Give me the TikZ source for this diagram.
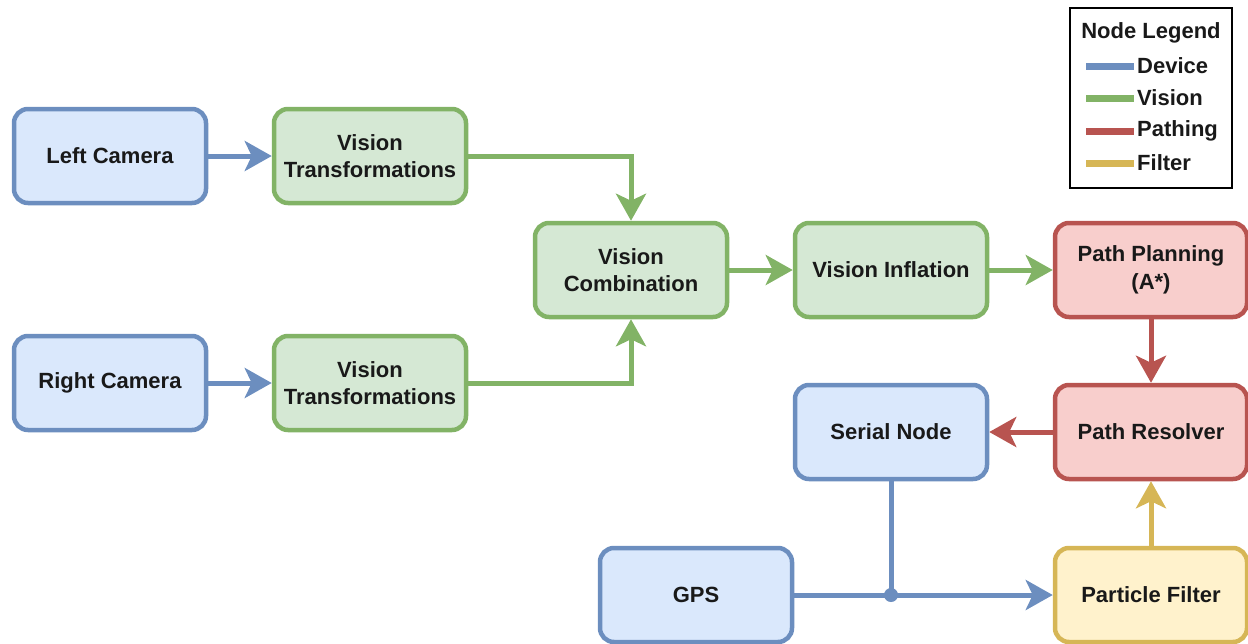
\documentclass[tikz,border=0pt]{standalone}
\usepackage{fontspec}
\setmainfont{Liberation Sans}
\usetikzlibrary{arrows.meta}
\definecolor{devfill}{HTML}{DAE8FC}
\definecolor{devline}{HTML}{6C8EBF}
\definecolor{visfill}{HTML}{D5E8D4}
\definecolor{visline}{HTML}{82B366}
\definecolor{pathfill}{HTML}{F8CECC}
\definecolor{pathline}{HTML}{B85450}
\definecolor{filtfill}{HTML}{FFF2CC}
\definecolor{filtline}{HTML}{D6B656}
\begin{document}
\begin{tikzpicture}[x=1pt,y=-1pt,
  box/.style={rounded corners=14pt, line width=4.5pt, minimum width=192pt, minimum height=94pt,
    align=center, inner sep=0pt, font=\fontsize{22}{27.5}\selectfont\bfseries, text=black!90},
  dev/.style={box, draw=devline, fill=devfill},
  vis/.style={box, draw=visline, fill=visfill},
  pth/.style={box, draw=pathline, fill=pathfill},
  flt/.style={box, draw=filtline, fill=filtfill},
  conn/.style={line width=5pt, -{Stealth[length=27pt,width=30pt,inset=7pt]}},
  legtxt/.style={font=\fontsize{22}{25}\selectfont\bfseries, inner sep=0pt, text=black!90},
  legbar/.style={line width=7pt},
]
\useasboundingbox (0,0) rectangle (1248,643);

\node[dev] (lc) at (110,156) {Left Camera};
\node[vis] (vt1) at (370,156) {Vision\\Transformations};
\node[dev] (rc) at (110,383) {Right Camera};
\node[vis] (vt2) at (370,383) {Vision\\Transformations};
\node[vis] (vc) at (631,270) {Vision\\Combination};
\node[vis] (vi) at (891,270) {Vision Inflation};
\node[pth] (pp) at (1151,270) {Path Planning\\(A*)};
\node[pth] (pr) at (1151,432) {Path Resolver};
\node[dev] (sn) at (891,432) {Serial Node};
\node[dev] (gps) at (696,595) {GPS};
\node[flt] (pf) at (1151,595) {Particle Filter};

\coordinate (j) at (sn.south |- gps.east);

\draw[conn, devline] (lc) -- (vt1);
\draw[conn, devline] (rc) -- (vt2);
\draw[conn, visline] (vt1.east) -| (vc.north);
\draw[conn, visline] (vt2.east) -| (vc.south);
\draw[conn, visline] (vc) -- (vi);
\draw[conn, visline] (vi) -- (pp);
\draw[conn, pathline] (pp) -- (pr);
\draw[conn, pathline] (pr) -- (sn);
\draw[conn, filtline] (pf) -- (pr);
\draw[conn, devline] (gps) -- (pf);
\draw[line width=5pt, devline] (sn.south) -- (j);
\fill[devline] (j) circle (7pt);

% legend
\draw[line width=1.5pt, black] (1070,8) rectangle (1232,188);
\node[legtxt] (lt) at (1151,33) {Node Legend};
\draw[legbar, devline] (1086,66) -- (1134,66);
\draw[legbar, visline] (1086,98) -- (1134,98);
\draw[legbar, pathline] (1086,131) -- (1134,131);
\draw[legbar, filtline] (1086,163) -- (1134,163);
\node[legtxt, anchor=west] (l1) at (1137,66) {Device};
\node[legtxt, anchor=west] (l2) at (1137,98) {Vision};
\node[legtxt, anchor=west] (l3) at (1137,131) {Pathing};
\node[legtxt, anchor=west] (l4) at (1137,163) {Filter};
\end{tikzpicture}
\end{document}
